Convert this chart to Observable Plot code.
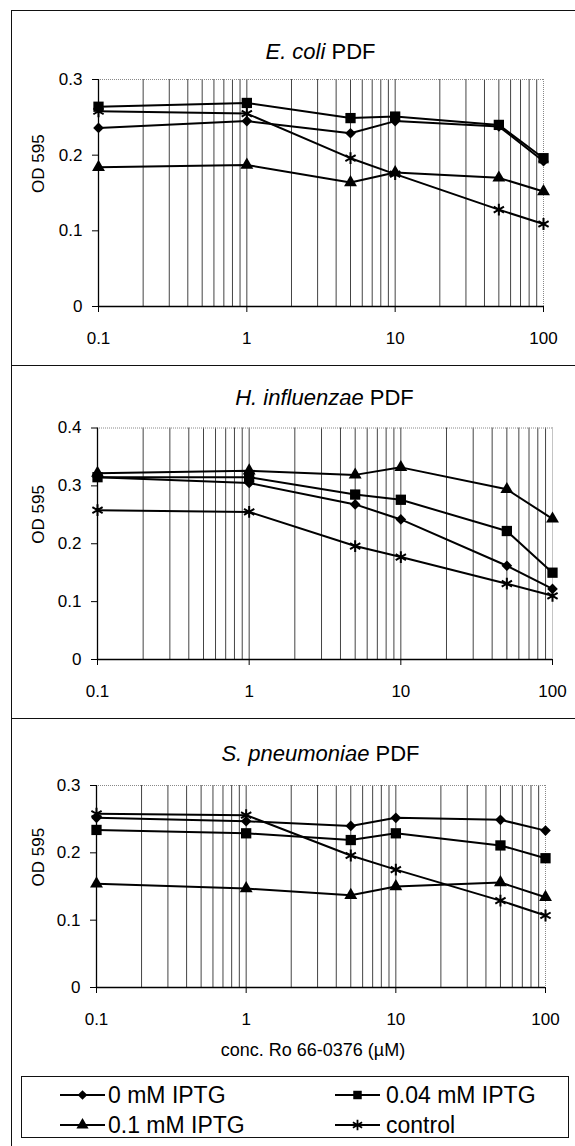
<!DOCTYPE html>
<html>
<head>
<meta charset="utf-8">
<script src="https://cdn.jsdelivr.net/npm/d3@7"></script>
<script src="https://cdn.jsdelivr.net/npm/@observablehq/plot@0.6"></script>
<style>
  html, body { margin: 0; padding: 0; background: #fff; overflow: hidden; }
  #fig { position: relative; width: 575px; height: 1146px; font-family: "Liberation Sans", Arial, sans-serif; color: #000; }
  .hline { position: absolute; height: 0; border-top: 1px solid #111; }
  .vline { position: absolute; width: 0; border-left: 1px solid #111; }
  .title { position: absolute; font-size: 22px; line-height: 22px; text-align: center; white-space: nowrap; }
  .xtitle { position: absolute; font-size: 18px; line-height: 18px; text-align: center; white-space: nowrap; }
  .legbox { position: absolute; border: 1px solid #111; box-sizing: border-box; }
  .legtext { position: absolute; font-size: 23px; line-height: 23px; white-space: nowrap; }
  #fig svg.plot-panel { position: absolute; left: 0; background: transparent; overflow: visible; }
</style>
</head>
<body>
<div id="fig"></div>
<script>
// ---------- data ----------
const conc = [0.1, 1, 5, 10, 50, 100];            // µM
const seriesNames = ["0 mM IPTG", "0.04 mM IPTG", "0.1 mM IPTG", "control"];

// E. coli PDF (OD 595)
const ecoli_0   = [0.236, 0.245, 0.229, 0.245, 0.238, 0.192];
const ecoli_004 = [0.264, 0.269, 0.249, 0.251, 0.240, 0.196];
const ecoli_01  = [0.184, 0.187, 0.164, 0.177, 0.170, 0.152];
const ecoli_ctl = [0.258, 0.255, 0.196, 0.175, 0.128, 0.109];

// H. influenzae PDF
const hinf_0   = [0.315, 0.305, 0.268, 0.242, 0.162, 0.122];
const hinf_004 = [0.315, 0.315, 0.285, 0.276, 0.222, 0.150];
const hinf_01  = [0.322, 0.326, 0.319, 0.332, 0.294, 0.243];
const hinf_ctl = [0.258, 0.255, 0.196, 0.177, 0.131, 0.110];

// S. pneumoniae PDF
const spn_0   = [0.252, 0.247, 0.240, 0.252, 0.249, 0.233];
const spn_004 = [0.234, 0.229, 0.219, 0.229, 0.211, 0.192];
const spn_01  = [0.154, 0.147, 0.137, 0.150, 0.156, 0.134];
const spn_ctl = [0.258, 0.256, 0.196, 0.175, 0.129, 0.107];

// axis ticks
const xTicks = [0.1, 1, 10, 100];
const xGrid = [0.2, 0.3, 0.4, 0.5, 0.6, 0.7, 0.8, 0.9, 1,
               2, 3, 4, 5, 6, 7, 8, 9, 10,
               20, 30, 40, 50, 60, 70, 80, 90];
const yTicks03 = [0, 0.1, 0.2, 0.3];
const yTicks04 = [0, 0.1, 0.2, 0.3, 0.4];

// ---------- styles per series ----------
const markerStyles = [
  {symbol: "diamond2", r: 4.8},
  {symbol: "square",   r: 5.8},
  {symbol: "triangle", r: 4.8},
  {symbol: "asterisk", r: 5.6}
];

const panels = [
  {italic: "E. coli", rest: " PDF", values: [ecoli_0, ecoli_004, ecoli_01, ecoli_ctl],
   yMax: 0.3, yTicks: yTicks03, top: 0, height: 365,
   mL: 98, mR: 32, mT: 79, mB: 59, titleTop: 41},
  {italic: "H. influenzae", rest: " PDF", values: [hinf_0, hinf_004, hinf_01, hinf_ctl],
   yMax: 0.4, yTicks: yTicks04, top: 365, height: 353,
   mL: 97, mR: 23, mT: 62.5, mB: 59, titleTop: 386.5},
  {italic: "S. pneumoniae", rest: " PDF", values: [spn_0, spn_004, spn_01, spn_ctl],
   yMax: 0.3, yTicks: yTicks03, top: 718, height: 322,
   mL: 96, mR: 30, mT: 67, mB: 53, titleTop: 743}
];

const fig = document.getElementById("fig");
function addEl(tag, cls, css, html) {
  const e = document.createElement(tag);
  if (cls) e.className = cls;
  Object.assign(e.style, css);
  if (html != null) e.innerHTML = html;
  fig.appendChild(e);
  return e;
}

// outer frame lines
addEl("div", "hline", {left: "11px", top: "10px", width: "564px"});
addEl("div", "vline", {left: "11px", top: "10px", height: "1136px"});
addEl("div", "hline", {left: "11px", top: "365px", width: "564px"});
addEl("div", "hline", {left: "11px", top: "718px", width: "564px"});

panels.forEach(p => {
  const rows = [];
  p.values.forEach((vals, si) => {
    vals.forEach((v, i) => rows.push({series: seriesNames[si], si, conc: conc[i], od: v}));
  });

  const marks = [
    Plot.ruleX(xGrid, {stroke: "#444", strokeWidth: 1}),
    Plot.ruleY([p.yMax], {stroke: "#888", strokeWidth: 1, strokeDasharray: "1,1"}),
    Plot.ruleX([100], {stroke: "#888", strokeWidth: 1, strokeDasharray: "1,1"}),
    Plot.ruleX([0.1], {stroke: "#000", strokeWidth: 1.3}),
    Plot.ruleY([0], {stroke: "#000", strokeWidth: 1.3}),
    Plot.line(rows, {x: "conc", y: "od", z: "series", stroke: "#000", strokeWidth: 2}),
    Plot.text(["OD 595"], {frameAnchor: "left", dx: 38 - p.mL, rotate: -90, fontSize: 17, fill: "#000"})
  ];
  markerStyles.forEach((ms, si) => {
    const d = rows.filter(r => r.si === si);
    if (ms.symbol === "asterisk") {
      marks.push(Plot.dot(d, {x: "conc", y: "od", symbol: ms.symbol, r: ms.r, stroke: "#000", strokeWidth: 2, fill: "none"}));
    } else {
      marks.push(Plot.dot(d, {x: "conc", y: "od", symbol: ms.symbol, r: ms.r, fill: "#000", stroke: "none"}));
    }
  });

  const svg = Plot.plot({
    width: 575, height: p.height,
    marginLeft: p.mL, marginRight: p.mR, marginTop: p.mT, marginBottom: p.mB,
    style: {fontFamily: "'Liberation Sans', Arial, sans-serif", fontSize: "17px", color: "#000", background: "transparent", overflow: "visible"},
    x: {type: "log", domain: [0.1, 100], ticks: xTicks, tickFormat: d => String(d), tickSize: 6, tickPadding: 19, label: null},
    y: {domain: [0, p.yMax], ticks: p.yTicks, tickFormat: d => d === 0 ? "0" : d.toFixed(1), tickSize: 6, tickPadding: 10, label: null},
    marks
  });
  svg.classList.add("plot-panel");
  svg.style.top = p.top + "px";
  fig.appendChild(svg);

  const plotW = 575 - p.mL - p.mR;
  addEl("div", "title", {left: p.mL + "px", width: plotW + "px", top: p.titleTop + "px"},
        `<i>${p.italic}</i>${p.rest}`);
});

// x-axis title (bottom panel)
addEl("div", "xtitle", {left: "113px", width: "400px", top: "1041px"}, "conc. Ro 66-0376 (µM)");

// legend
addEl("div", "legbox", {left: "21px", top: "1076px", width: "548px", height: "62px"});
const legendPos = [
  {x0: 60, x1: 105, tx: 108, y: 1095},
  {x0: 335, x1: 380, tx: 386, y: 1095},
  {x0: 60, x1: 105, tx: 108, y: 1125},
  {x0: 335, x1: 380, tx: 386, y: 1125}
];
const legendSymbols = [d3.symbolDiamond2, d3.symbolSquare, d3.symbolTriangle, d3.symbolAsterisk];
const legendSizes = [60, 72, 64, 80];
seriesNames.forEach((name, i) => {
  const lp = legendPos[i];
  const w = lp.x1 - lp.x0;
  const s = d3.create("svg").attr("width", w).attr("height", 20)
    .style("position", "absolute").style("left", lp.x0 + "px").style("top", (lp.y - 10) + "px").style("overflow", "visible");
  s.append("line").attr("x1", 0).attr("x2", w).attr("y1", 10).attr("y2", 10).attr("stroke", "#000").attr("stroke-width", 1.8);
  const path = d3.symbol().type(legendSymbols[i]).size(legendSizes[i])();
  const g = s.append("path").attr("d", path).attr("transform", `translate(${w / 2},10)`);
  if (i === 3) g.attr("fill", "none").attr("stroke", "#000").attr("stroke-width", 1.8);
  else g.attr("fill", "#000");
  fig.appendChild(s.node());
  addEl("div", "legtext", {left: lp.tx + "px", top: (lp.y - 11.5) + "px"}, name);
});
</script>
</body>
</html>
